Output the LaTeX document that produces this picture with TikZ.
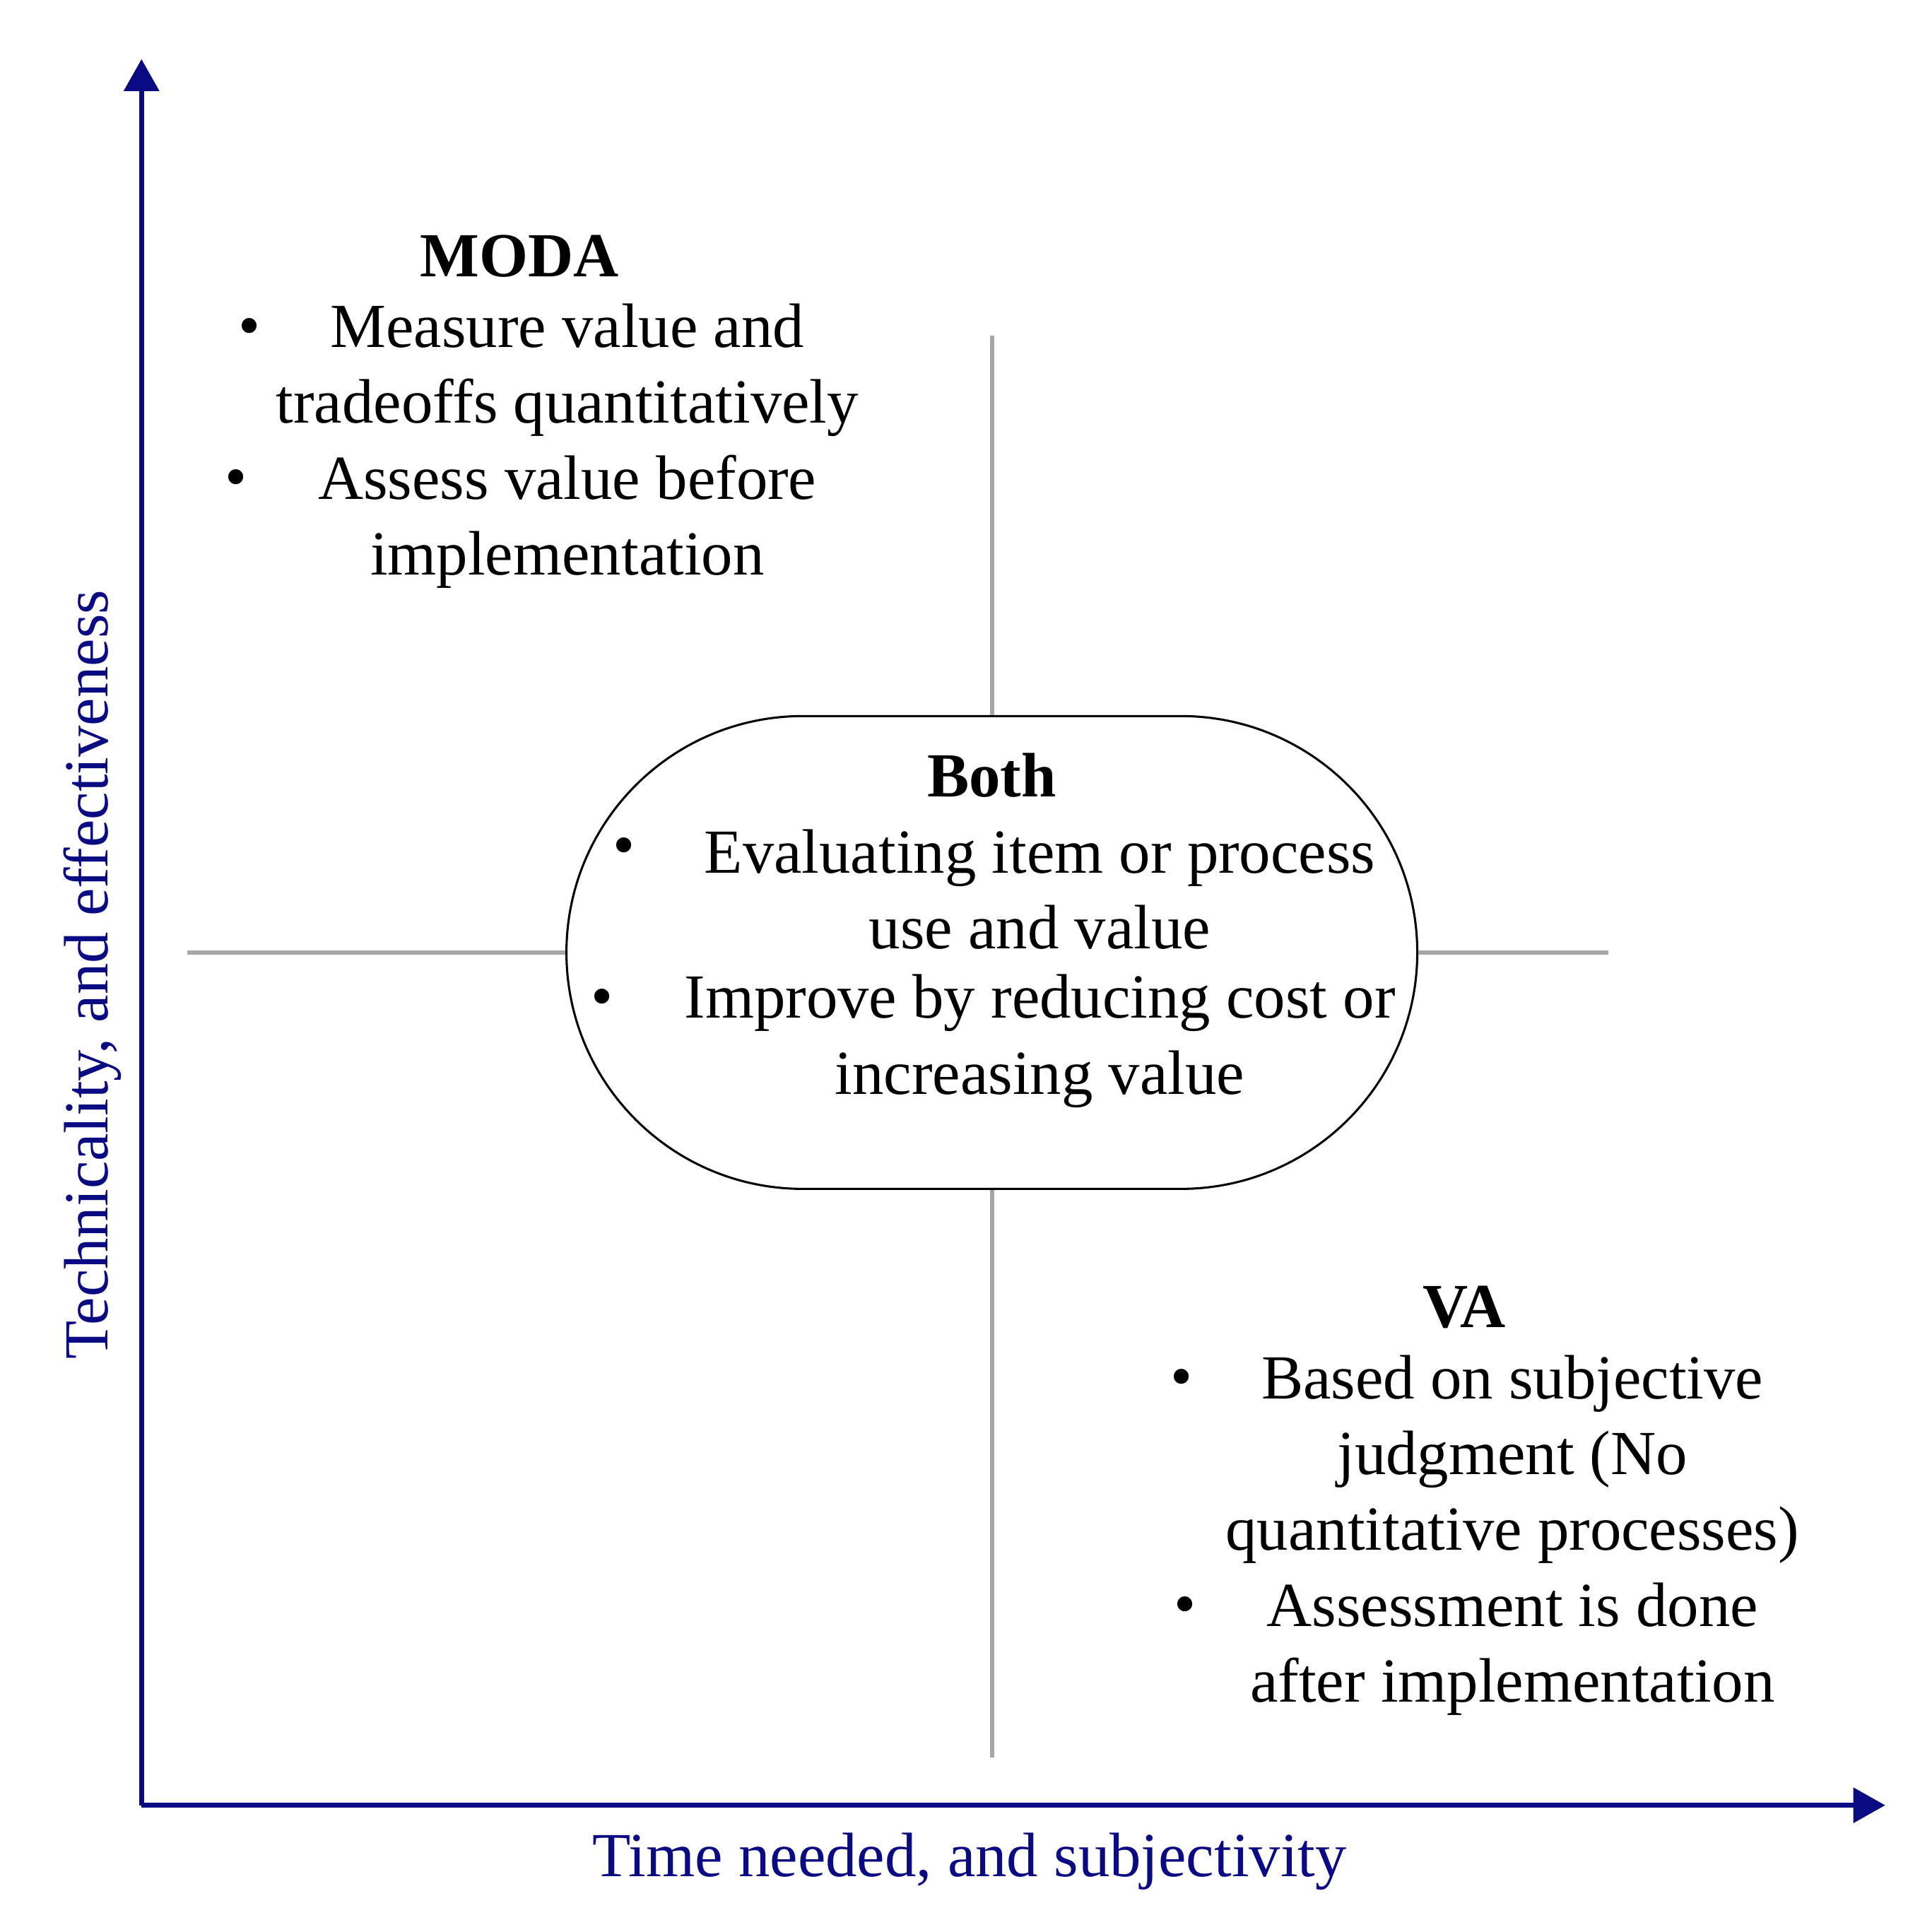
\documentclass[tikz,border=0pt]{standalone}
\usepackage{fontspec}
\setmainfont{Liberation Serif}
\usetikzlibrary{arrows.meta,positioning}
\definecolor{axisblue}{RGB}{10,10,130}
\begin{document}
\begin{tikzpicture}[
  x=0.01cm, y=-0.01cm,
  axis/.style={
    draw=axisblue,
    line width=1.2pt,
    -{Triangle[length=0.26cm,width=0.28cm]}
  },
  grid/.style={
    draw=black!35,
    line width=1pt
  },
  txt/.style={
    font=\fontsize{14.5}{17.5}\selectfont,
    align=center,
    inner sep=0pt
  },
  head/.style={
    txt,
    font=\fontsize{14.5}{17.5}\selectfont\bfseries
  },
  dot/.style={
    txt
  },
  lbl/.style={
    txt,
    text=axisblue
  }
]
\useasboundingbox (0,0) rectangle (1560,1570);

% Axes
\coordinate (origin) at (115,1467);
\coordinate (ytip) at (115,48);
\coordinate (xtip) at (1532,1467);
\draw[axis] (origin) -- (ytip);
\draw[axis] (origin) -- (xtip);
\node[lbl] (xlabel) at (788,1513) {Time needed, and subjectivity};
\node[lbl, rotate=90] (ylabel) at (75,792) {Technicality, and effectiveness};

% Centre box
\node[draw=black, line width=0.5pt, rectangle, minimum width=6.91cm,
  minimum height=3.84cm, rounded corners=1.92cm] (both) at (806,774) {};

% Quadrant lines
\coordinate (top) at (806,273);
\coordinate (bottom) at (806,1428);
\coordinate (left) at (152,774);
\coordinate (right) at (1307,774);
\draw[grid] (top) -- (both.north);
\draw[grid] (both.south) -- (bottom);
\draw[grid] (left) -- (both.west);
\draw[grid] (both.east) -- (right);

% MODA
\node[head] (modatitle) at (422,208) {MODA};
\node[txt] (moda1) at (461,301) {Measure value and\\tradeoffs quantitatively};
\node[txt] (moda2) at (461,424) {Assess value before\\implementation};
\node[dot] at (203,270) {\textbullet};
\node[dot] at (192,393) {\textbullet};

% Both
\node[head] (bothtitle) at (806,630) {Both};
\node[txt] (both1) at (845,723) {Evaluating item or process\\use and value};
\node[txt] (both2) at (845,846) {Improve by reducing cost or\\increasing value};
\node[dot] at (507,692) {\textbullet};
\node[dot] at (489,815) {\textbullet};

% VA
\node[head] (vatitle) at (1190,1062) {VA};
\node[txt] (va1) at (1229,1186) {Based on subjective\\judgment (No\\quantitative processes)};
\node[txt] (va2) at (1229,1340) {Assessment is done\\after implementation};
\node[dot] at (960,1124) {\textbullet};
\node[dot] at (963,1309) {\textbullet};

\end{tikzpicture}
\end{document}
